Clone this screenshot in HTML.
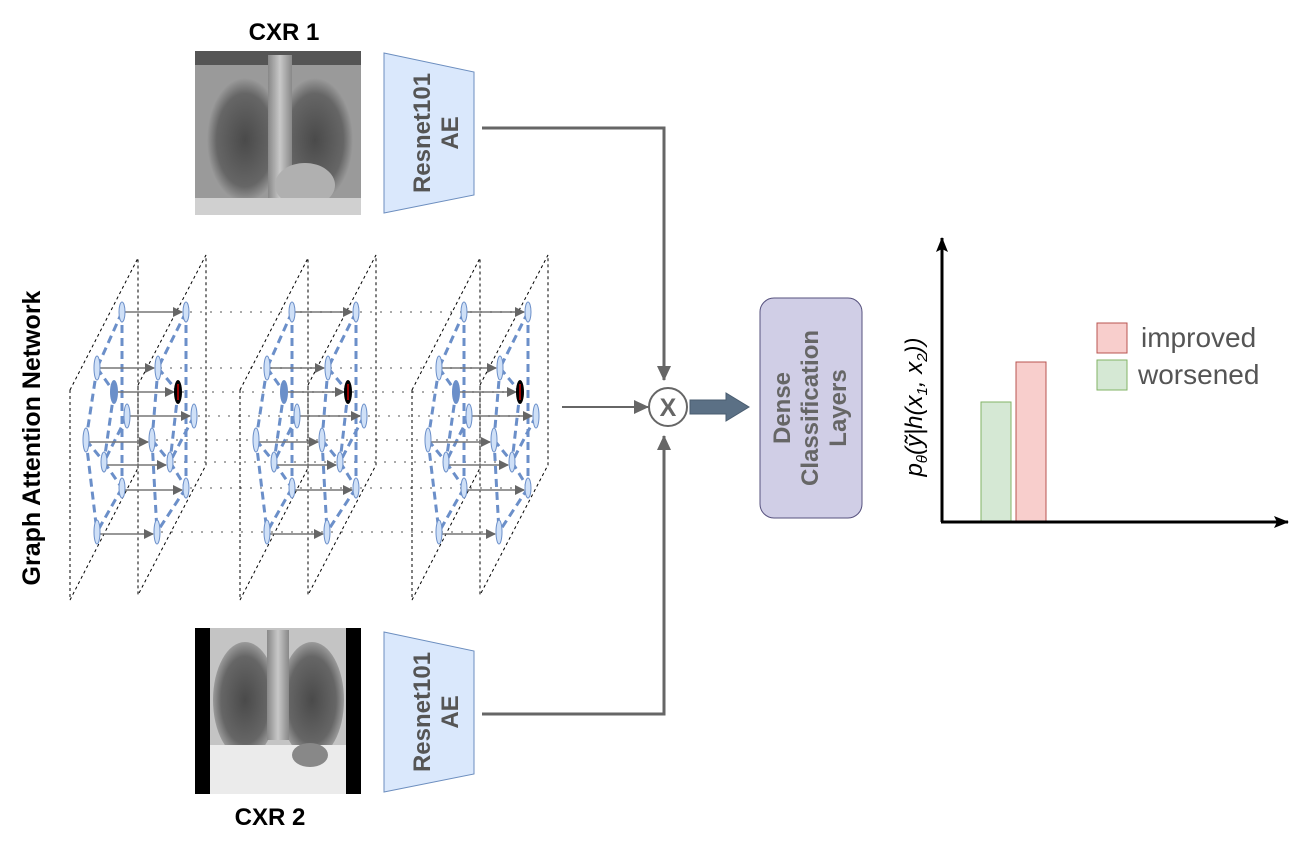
<!DOCTYPE html>
<html><head><meta charset="utf-8"><style>
html,body{margin:0;padding:0;background:#fff;}
svg{display:block;}
text{font-family:"Liberation Sans",sans-serif;}
</style></head><body>
<svg width="1311" height="847" viewBox="0 0 1311 847" xmlns="http://www.w3.org/2000/svg">
<defs>
<marker id="ag" markerWidth="10" markerHeight="10" refX="9" refY="5" orient="auto" markerUnits="userSpaceOnUse"><path d="M0,0 L10,5 L0,10 Z" fill="#666"/></marker>
<marker id="ab" markerWidth="16" markerHeight="16" refX="14" refY="8" orient="auto" markerUnits="userSpaceOnUse"><path d="M0,1 L15,8 L0,15 Z" fill="#666"/></marker>
<marker id="ak" markerWidth="16" markerHeight="16" refX="14" refY="8" orient="auto" markerUnits="userSpaceOnUse"><path d="M0,2 L15,8 L0,14 L3,8 Z" fill="#000"/></marker>
<radialGradient id="lung" cx="50%" cy="50%" r="50%"><stop offset="0" stop-color="#4a4a4a"/><stop offset="0.75" stop-color="#666"/><stop offset="1" stop-color="#9a9a9a"/></radialGradient>
<linearGradient id="spine" x1="0" x2="1"><stop offset="0" stop-color="#888"/><stop offset="0.5" stop-color="#c8c8c8"/><stop offset="1" stop-color="#888"/></linearGradient>
<g id="grp">
  <path d="M0,390 L68,258 L68,468 L0,600 Z" fill="none" stroke="#000" stroke-dasharray="3,3" stroke-width="1"/>
  <path d="M68,385 L136,255 L136,465 L68,595 Z" fill="none" stroke="#000" stroke-dasharray="3,3" stroke-width="1"/>
  <g stroke="#6b8fc9" stroke-width="3" stroke-dasharray="8,5" fill="none">
    <path d="M52,312 L52,488 M52,312 L27,368 M27,368 L16,440 M27,368 L44,392 M44,392 L34,462 M57,416 L34,462 M16,440 L34,462 M34,462 L52,488 M52,488 L27,532 M16,440 L27,532"/>
    <path d="M116,312 L116,488 M116,312 L88,368 M88,368 L82,440 M88,368 L108,392 M108,392 L100,462 M124,416 L100,462 M82,440 L100,462 M100,462 L116,488 M116,488 L87,532 M82,440 L87,532"/>
  </g>
  <g stroke="#777" stroke-width="1.5" marker-end="url(#ag)">
    <line x1="54" y1="312" x2="112" y2="312"/>
    <line x1="29" y1="368" x2="84" y2="368"/>
    <line x1="48" y1="392" x2="104" y2="392"/>
    <line x1="59" y1="416" x2="120" y2="416"/>
    <line x1="18" y1="442" x2="78" y2="442"/>
    <line x1="36" y1="465" x2="96" y2="465"/>
    <line x1="54" y1="490" x2="112" y2="490"/>
    <line x1="29" y1="534" x2="83" y2="534"/>
  </g>
  <g fill="#cfe0f7" stroke="#6b8fc9" stroke-width="1">
    <ellipse cx="52" cy="312" rx="3" ry="10"/><ellipse cx="27" cy="368" rx="3" ry="12"/>
    <ellipse cx="57" cy="416" rx="3" ry="12"/><ellipse cx="16" cy="440" rx="3" ry="12"/>
    <ellipse cx="34" cy="462" rx="3" ry="10"/><ellipse cx="52" cy="488" rx="3" ry="10"/>
    <ellipse cx="27" cy="532" rx="3" ry="12"/>
    <ellipse cx="116" cy="312" rx="3" ry="10"/><ellipse cx="88" cy="368" rx="3" ry="12"/>
    <ellipse cx="124" cy="416" rx="3" ry="12"/><ellipse cx="82" cy="440" rx="3" ry="12"/>
    <ellipse cx="100" cy="462" rx="3" ry="10"/><ellipse cx="116" cy="488" rx="3" ry="10"/>
    <ellipse cx="87" cy="532" rx="3" ry="12"/>
  </g>
  <ellipse cx="44" cy="392" rx="4" ry="12" fill="#6b8fc9"/>
  <ellipse cx="108" cy="392" rx="4" ry="12" fill="#000"/>
  <line x1="108" y1="384" x2="108" y2="400" stroke="#c00" stroke-width="1.5"/>
</g>
</defs>

<g stroke="#aaa" stroke-width="2" stroke-dasharray="2,8" fill="none">
  <line x1="190" y1="312" x2="515" y2="312"/>
  <line x1="160" y1="368" x2="485" y2="368"/>
  <line x1="182" y1="392" x2="507" y2="392"/>
  <line x1="198" y1="416" x2="523" y2="416"/>
  <line x1="156" y1="440" x2="481" y2="440"/>
  <line x1="174" y1="462" x2="499" y2="462"/>
  <line x1="190" y1="488" x2="515" y2="488"/>
  <line x1="161" y1="532" x2="486" y2="532"/>
</g>
<use href="#grp" x="70" y="0"/>
<use href="#grp" x="240" y="0"/>
<use href="#grp" x="412" y="0"/>

<text x="40" y="438" font-size="25" font-weight="bold" transform="rotate(-90 40 438)" text-anchor="middle">Graph Attention Network</text>

<!-- CXR1 -->
<text x="284" y="40" font-size="24" font-weight="bold" text-anchor="middle">CXR 1</text>
<rect x="195" y="51" width="166" height="164" fill="#9a9a9a"/>
<rect x="195" y="51" width="166" height="14" fill="#555"/>
<ellipse cx="245" cy="140" rx="38" ry="62" fill="url(#lung)"/>
<ellipse cx="315" cy="140" rx="38" ry="62" fill="url(#lung)"/>
<rect x="268" y="55" width="24" height="160" fill="url(#spine)"/>
<ellipse cx="305" cy="185" rx="30" ry="22" fill="#b0b0b0"/>
<rect x="195" y="198" width="166" height="17" fill="#d0d0d0"/>

<!-- CXR2 -->
<rect x="195" y="628" width="166" height="166" fill="#000"/>
<rect x="210" y="628" width="136" height="166" fill="#c4c4c4"/>
<ellipse cx="245" cy="700" rx="32" ry="58" fill="url(#lung)"/>
<ellipse cx="312" cy="700" rx="32" ry="58" fill="url(#lung)"/>
<rect x="267" y="630" width="22" height="110" fill="url(#spine)"/>
<rect x="210" y="745" width="136" height="49" fill="#ebebeb"/>
<ellipse cx="310" cy="755" rx="18" ry="12" fill="#888"/>
<text x="270" y="825" font-size="24" font-weight="bold" text-anchor="middle">CXR 2</text>

<!-- Resnet trapezoids -->
<path d="M384,53 L474,72 L474,195 L384,213 Z" fill="#dae8fc" stroke="#6c8ebf" stroke-width="1"/>
<text transform="translate(436,133) rotate(-90)" font-size="24" font-weight="bold" fill="#555" text-anchor="middle"><tspan x="0" y="-6">Resnet101</tspan><tspan x="0" y="22">AE</tspan></text>
<path d="M384,632 L474,651 L474,774 L384,792 Z" fill="#dae8fc" stroke="#6c8ebf" stroke-width="1"/>
<text transform="translate(436,712) rotate(-90)" font-size="24" font-weight="bold" fill="#555" text-anchor="middle"><tspan x="0" y="-6">Resnet101</tspan><tspan x="0" y="22">AE</tspan></text>

<g stroke="#666" stroke-width="3" fill="none">
  <path d="M482,128 L664,128 L664,380" marker-end="url(#ab)"/>
  <path d="M482,714 L664,714 L664,436" marker-end="url(#ab)"/>
  <path d="M562,407 L648,407" marker-end="url(#ab)" stroke-width="2"/>
</g>
<circle cx="668" cy="407" r="19" fill="#fff" stroke="#666" stroke-width="2"/>
<text x="668" y="416" font-size="25" font-weight="bold" fill="#666" text-anchor="middle">X</text>
<path d="M690,400 L726,400 L726,393 L749,407 L726,421 L726,414 L690,414 Z" fill="#5b7085" stroke="#4a5d70" stroke-width="1"/>

<rect x="760" y="298" width="102" height="220" rx="14" fill="#d0cee6" stroke="#56517e" stroke-width="1"/>
<text transform="translate(811,408) rotate(-90)" font-size="24" font-weight="bold" fill="#666" text-anchor="middle"><tspan x="0" y="-21">Dense</tspan><tspan x="0" y="7">Classification</tspan><tspan x="0" y="35">Layers</tspan></text>

<text transform="translate(922,407) rotate(-90)" font-size="24" font-style="italic" font-family="Liberation Serif,serif" text-anchor="middle">p<tspan font-size="15" dy="5">θ</tspan><tspan dy="-5">(ỹ|h(x</tspan><tspan font-size="15" dy="5">1</tspan><tspan dy="-5">, x</tspan><tspan font-size="15" dy="5">2</tspan><tspan dy="-5">))</tspan></text>
<rect x="981" y="402" width="30" height="120" fill="#d5e8d4" stroke="#82b366"/>
<rect x="1016" y="362" width="30" height="160" fill="#f8cecc" stroke="#b85450"/>
<g stroke="#000" stroke-width="3" fill="none">
  <path d="M942,522 L942,238" marker-end="url(#ak)"/>
  <path d="M941,522 L1288,522" marker-end="url(#ak)"/>
</g>
<rect x="1097" y="323" width="30" height="30" fill="#f8cecc" stroke="#b85450"/>
<rect x="1097" y="360" width="30" height="30" fill="#d5e8d4" stroke="#82b366"/>
<text x="1141" y="347" font-size="28" fill="#555">improved</text>
<text x="1138" y="384" font-size="28" fill="#555">worsened</text>
</svg>
</body></html>
